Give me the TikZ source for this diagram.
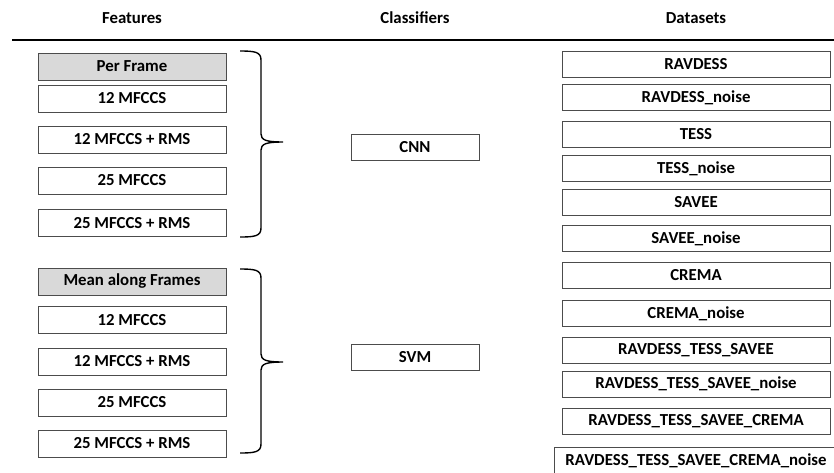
\documentclass[tikz,border=0pt]{standalone}
\usepackage{fontspec}
\setmainfont{Carlito}
\begin{document}
\begin{tikzpicture}[x=1pt,y=-1pt,
  every node/.style={font=\fontsize{16.8}{18}\selectfont\bfseries},
  fbox/.style={draw=black!70, line width=0.8pt, fill=white, rectangle, inner sep=0pt, minimum width=188pt, minimum height=27pt},
  hbox/.style={fbox, fill=black!15},
  cbox/.style={draw=black!70, line width=0.8pt, rectangle, inner sep=0pt, minimum width=128pt, minimum height=26pt},
  dbox/.style={draw=black!70, line width=0.8pt, rectangle, inner sep=0pt, minimum width=268pt, minimum height=26pt},
  brace/.style={draw=black, line width=1.4pt},
  header/.style={font=\fontsize{16.8}{18}\selectfont\bfseries}]
\useasboundingbox[fill=white] (0,0) rectangle (834,472);
% headers
\node[header] (hF) at (132,18) {Features};
\node[header] (hC) at (415,18) {Classifiers};
\node[header] (hD) at (696,18) {Datasets};
\coordinate (lineL) at (12,40);
\coordinate (lineR) at (840,40);
\draw[line width=1.8pt] (lineL) -- (lineR);
% features group 1
\node[hbox] (pf) at (132,66.5) {Per Frame};
\node[fbox] (a1) at (132,98.5) {12 MFCCS};
\node[fbox] (a2) at (132,139.5) {12 MFCCS + RMS};
\node[fbox] (a3) at (132,180.5) {25 MFCCS};
\node[fbox] (a4) at (132,223) {25 MFCCS + RMS};
% features group 2
\node[hbox] (mf) at (132,281.5) {Mean along Frames};
\node[fbox] (b1) at (132,320) {12 MFCCS};
\node[fbox] (b2) at (132,361.5) {12 MFCCS + RMS};
\node[fbox] (b3) at (132,402.5) {25 MFCCS};
\node[fbox] (b4) at (132,443.5) {25 MFCCS + RMS};
% braces
\coordinate (t1) at (283,142);
\coordinate (t2) at (283,362);
\draw[brace] (240,51) .. controls (255,51) and (261,52) .. (261,60) -- (261,134)
  .. controls (261,140) and (266,142) .. (t1)
  .. controls (266,142) and (261,144) .. (261,150) -- (261,228)
  .. controls (261,236) and (255,237) .. (240,237);
\draw[brace] (240,269) .. controls (255,269) and (261,270) .. (261,278) -- (261,354)
  .. controls (261,360) and (266,362) .. (t2)
  .. controls (266,362) and (261,364) .. (261,370) -- (261,444)
  .. controls (261,452) and (255,453) .. (240,453);
% classifiers
\node[cbox] (cnn) at (415,147) {CNN};
\node[cbox] (svm) at (415,357) {SVM};
% datasets
\node[dbox] (d1) at (696,64) {RAVDESS};
\node[dbox] (d2) at (696,97.5) {RAVDESS\_noise};
\node[dbox] (d3) at (696,134.5) {TESS};
\node[dbox] (d4) at (696,168.5) {TESS\_noise};
\node[dbox] (d5) at (696,202) {SAVEE};
\node[dbox] (d6) at (696,238.5) {SAVEE\_noise};
\node[dbox] (d7) at (696,275) {CREMA};
\node[dbox] (d8) at (696,313.5) {CREMA\_noise};
\node[dbox] (d9) at (696,350) {RAVDESS\_TESS\_SAVEE};
\node[dbox] (d10) at (696,384) {RAVDESS\_TESS\_SAVEE\_noise};
\node[dbox] (d11) at (696,421) {RAVDESS\_TESS\_SAVEE\_CREMA};
\node[dbox, minimum width=284pt, minimum height=28pt] (d12) at (696,461) {RAVDESS\_TESS\_SAVEE\_CREMA\_noise};
\end{tikzpicture}
\end{document}
